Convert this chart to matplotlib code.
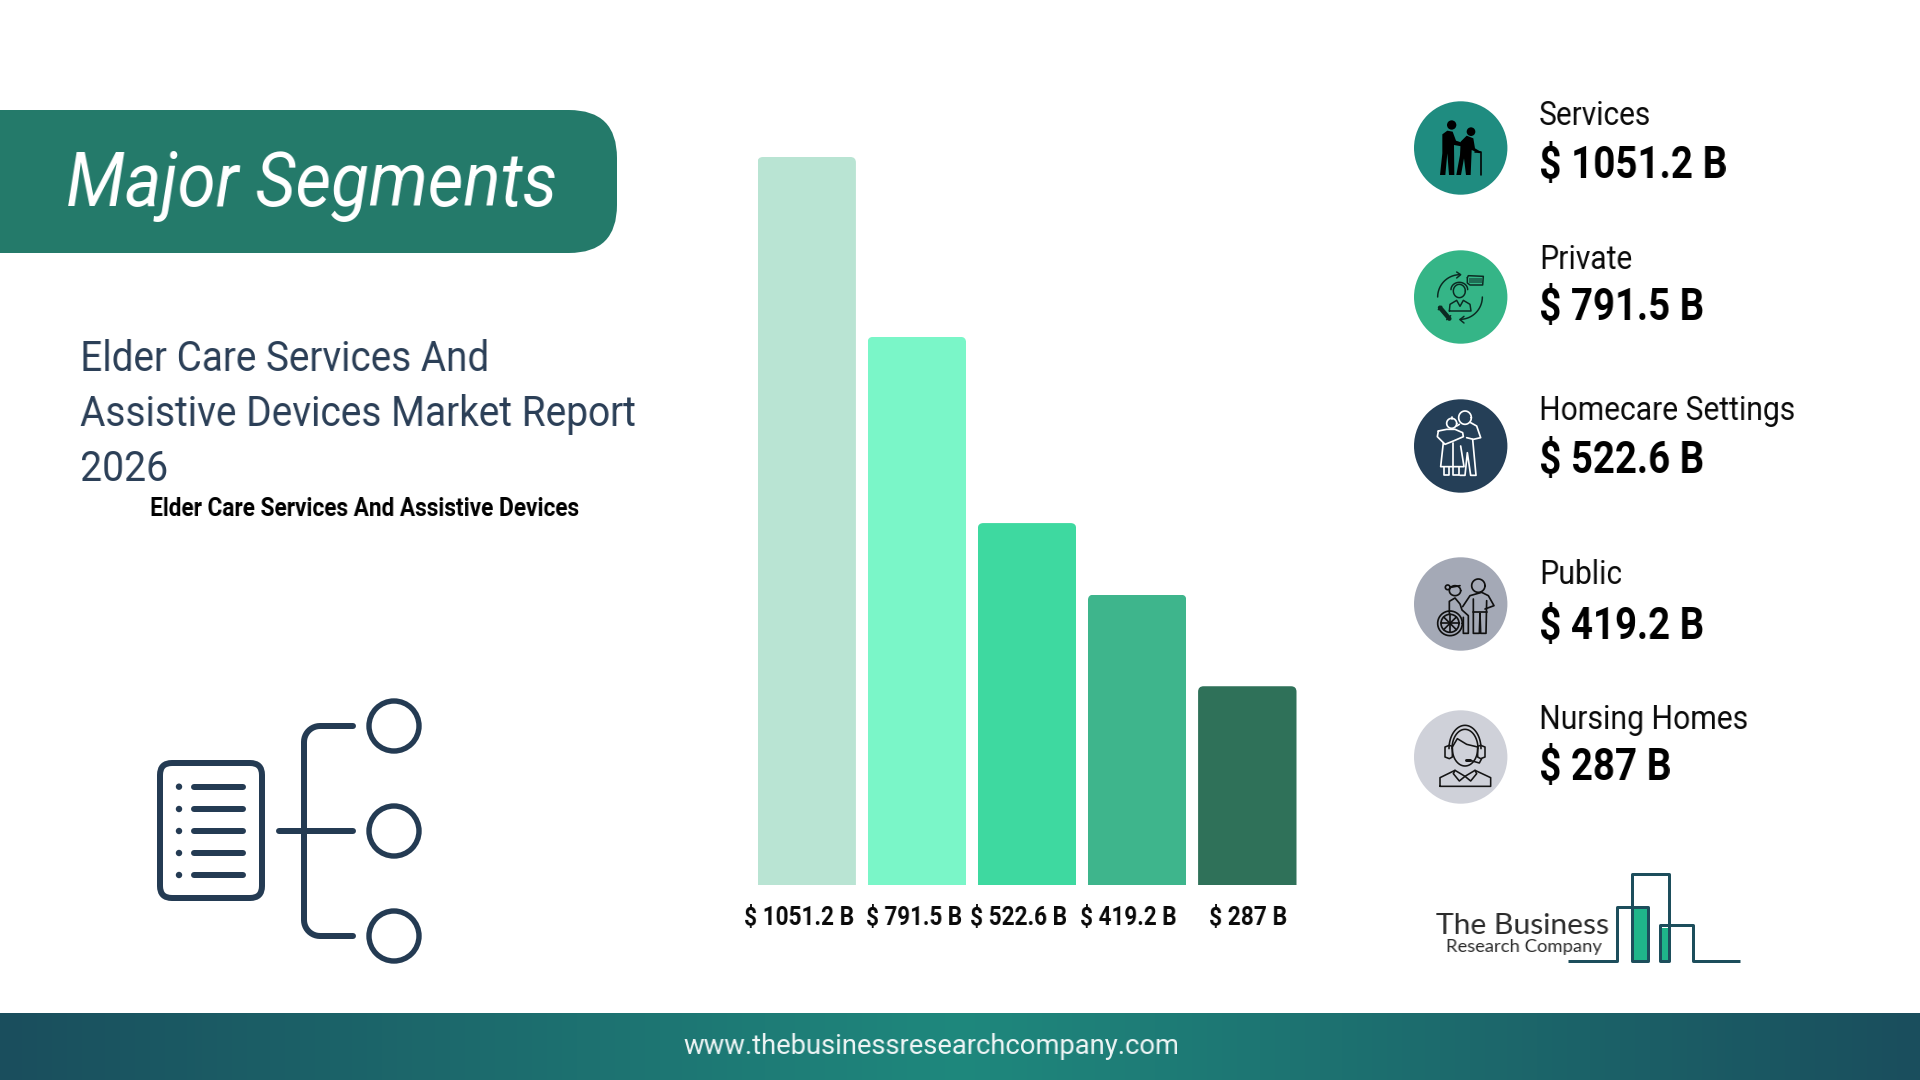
import matplotlib
matplotlib.use('Agg')
import matplotlib.pyplot as plt
import numpy as np
from matplotlib.colors import to_rgb
from matplotlib.patches import Circle, FancyBboxPatch, Rectangle, Polygon
from matplotlib.transforms import offset_copy

plt.rcParams['font.family'] = ['Roboto', 'DejaVu Sans']

# data
segments = ['Services', 'Private', 'Homecare Settings', 'Public', 'Nursing Homes']
values = [1051.2, 791.5, 522.6, 419.2, 287]
value_labels = ['$ 1051.2 B', '$ 791.5 B', '$ 522.6 B', '$ 419.2 B', '$ 287 B']
bar_colors = ['#b9e4d3', '#7af6c8', '#3ed9a0', '#3eb58c', '#2f7159']
circle_colors = ['#1f8c80', '#35b587', '#253f57', '#a4a9b6', '#cfd1d9']

# label positions and text widths, in pixels
label_nudge = [-7.5, -2, -8.5, -8, 1]
label_width = [110, 96, 97, 96.5, 78]
name_base = [125, 269, 420, 584, 729]
name_width = [112, 93, 256, 83, 209]
value_base = [178, 320, 473, 639, 780]
value_width = [188, 165, 165, 165, 132]
circle_y = [148, 297, 446, 604, 757]

NAVY = '#243b53'
PX = 0.72  # points per pixel at dpi 100

fig = plt.figure(figsize=(19.2, 10.8), dpi=100, facecolor='white')
renderer = fig.canvas.get_renderer()
bg = fig.add_axes([0, 0, 1, 1])
bg.set_xlim(0, 1920)
bg.set_ylim(1080, 0)
bg.axis('off')


def squeeze(t, target, centre=False):
    # the source font runs tighter than Roboto here, so scale the drawn text sideways
    factor = target / t.get_window_extent(renderer).width
    rgb = to_rgb(t.get_color())

    def flt(img, dpi):
        h, w = img.shape[:2]
        new_w = max(1, int(round(w * factor)))
        pos = (np.arange(new_w) + 0.5) / factor - 0.5
        i0 = np.clip(np.floor(pos).astype(int), 0, w - 1)
        i1 = np.clip(i0 + 1, 0, w - 1)
        frac = np.clip(pos - i0, 0, 1)
        alpha = img[:, i0, 3] * (1 - frac) + img[:, i1, 3] * frac
        out = np.zeros((h, new_w, 4))
        out[..., :3] = rgb
        out[..., 3] = alpha
        ox = int(round((w - new_w) / 2)) if centre else 0
        return out, ox, 0

    t.set_agg_filter(flt)
    return t


def txt(x, y, s, size, width=None, **kw):
    kw.setdefault('va', 'baseline')
    t = bg.text(x, y, s, fontsize=size, **kw)
    if width is not None:
        squeeze(t, width, kw.get('ha') == 'center')
    return t


def line(pts, c=NAVY, w=6, ox=0, oy=0, k=1.0, cap='round', **kw):
    pts = np.array(pts, dtype=float)
    bg.plot(ox + pts[:, 0] * k, oy + pts[:, 1] * k, color=c, lw=w * PX,
            solid_capstyle=cap, solid_joinstyle='round', **kw)


def arc(cx, cy, rx, ry, a0, a1, n=40):
    t = np.radians(np.linspace(a0, a1, n))
    return np.column_stack((cx + rx * np.cos(t), cy + ry * np.sin(t)))


# banner
grad = np.linspace(0, 1, 256).reshape(1, -1)
banner = FancyBboxPatch((-60, 110), 677, 143, boxstyle='round,pad=0,rounding_size=48',
                        fc='#247a6a', ec='none')
bg.add_patch(banner)
txt(66, 206, 'Major Segments', 54, width=491, color='white', style='italic')

# subtitle
sub_lines = ['Elder Care Services And', 'Assistive Devices Market Report', '2026']
sub_width = [409, 556, 88]
for s, y, wd in zip(sub_lines, [371, 426, 481], sub_width):
    txt(80, y, s, 30.5, width=wd, color='#2b3f57')
txt(150.5, 515.5, 'Elder Care Services And Assistive Devices', 18, width=429, color='black', weight='bold')

# footer
cmap = matplotlib.colors.LinearSegmentedColormap.from_list('foot', ['#1a4e5d', '#1f887d', '#1a4e5d'])
bg.imshow(grad, extent=(0, 1920, 1080, 1013), aspect='auto', cmap=cmap, zorder=1)
bg.set_xlim(0, 1920)
bg.set_ylim(1080, 0)
txt(931, 1053.5, 'www.thebusinessresearchcompany.com', 20, width=496, color='#eef5f5', ha='center', zorder=3)

# left icon
bg.add_patch(FancyBboxPatch((160, 763), 102, 135, boxstyle='round,pad=0,rounding_size=12',
                            fc='none', ec=NAVY, lw=6 * PX))
for y in [786.7, 809, 831, 853, 875]:
    bg.add_patch(Circle((179, y), 3.2, fc=NAVY, ec='none'))
    line([(194, y), (243, y)])
line([(353, 726), (320, 726)] + arc(320, 742, 16, 16, 270, 180, 12).tolist()
     + arc(320, 920, 16, 16, 180, 90, 12).tolist() + [(353, 936)])
line([(279, 831), (353, 831)])
for y in [726, 831, 936]:
    bg.add_patch(Circle((394, y), 25, fc='none', ec=NAVY, lw=5.4 * PX))

# right hand list
for i in range(5):
    bg.add_patch(Circle((1460.7, circle_y[i]), 46.7, fc=circle_colors[i], ec='none'))
    txt(1539, name_base[i], segments[i], 24, width=name_width[i], color='#0a0a0a')
    txt(1539, value_base[i], value_labels[i], 32, width=value_width[i], color='black', weight='bold')

# icon 1, couple with cane
ox, oy, k = 1410, 100, 1 / 3
for c, r in [((125, 75), 14), ((183, 95), 13)]:
    bg.add_patch(Circle((ox + c[0] * k, oy + c[1] * k), r * k, fc='black', ec='none'))
man = [(97, 103), (112, 92), (128, 95), (138, 122), (162, 130), (160, 140), (132, 135), (133, 225),
       (117, 225), (112, 160), (106, 225), (90, 225), (97, 160)]
woman = [(152, 125), (170, 107), (190, 115), (195, 145), (212, 155), (208, 160), (185, 150), (182, 225),
         (168, 225), (162, 175), (153, 225), (139, 225), (150, 165)]
for shape in [man, woman]:
    bg.add_patch(Polygon(ox + np.array(shape) * k + [0, oy - ox], fc='black', ec='none'))
line([(195, 155), (212, 155), (212, 226)], c='black', w=1.6, ox=ox, oy=oy, k=k)

# icon 2, call centre
ox, oy = 1410, 247
d = dict(c='#0c2a22', w=1.5, ox=ox, oy=oy, k=k)
line(arc(150, 150, 67, 67, 180, 270), **d)
line([(140, 75), (152, 83), (140, 93)], **d)
line(arc(150, 150, 67, 67, 0, 90), **d)
line([(162, 208), (150, 218), (162, 228)], **d)
line(arc(148, 132, 18, 20, 0, 360), **d)
line(arc(148, 128, 25, 22, 180, 360), **d)
line([(118, 192), (120, 172), (140, 160), (150, 178), (160, 160), (180, 172), (183, 192), (118, 192)], **d)
line([(172, 92), (172, 108), (180, 114), (218, 114), (220, 88), (175, 86), (172, 92)], **d)
bg.add_patch(Rectangle((ox + 178 * k, oy + 92 * k), 38 * k, 15 * k, fc='#1f6e55', ec='none'))
line([(90, 182), (118, 215)], c='#0c2a22', w=4.5, ox=ox, oy=oy, k=k)
line([(95, 178), (85, 188)], **d)
line([(122, 206), (110, 218)], **d)

# icon 3, elderly couple
ox, oy = 1410, 396
d = dict(c='white', w=1.7, ox=ox, oy=oy, k=k)
line(arc(165, 65, 19, 20, 0, 360), **d)
line(arc(125, 82, 15, 15, 0, 360), **d)
line([(125, 62), (125, 68)], **d)
line([(148, 85), (140, 90)], **d)
line([(182, 80), (200, 90), (212, 125), (190, 130), (170, 125)], **d)
line([(85, 105), (82, 122), (105, 145), (130, 135), (160, 122), (158, 110), (135, 100), (110, 100), (85, 105)], **d)
line([(100, 140), (92, 212), (162, 212), (152, 150)], **d)
line([(188, 130), (198, 238), (182, 238), (172, 170), (165, 238), (150, 238)], **d)
line([(102, 212), (102, 238), (118, 238), (118, 212)], **d)
line([(130, 140), (130, 238), (148, 238), (148, 212)], **d)

# icon 4, wheelchair
ox, oy = 1410, 554
d = dict(c='#111111', w=1.7, ox=ox, oy=oy, k=k)
line(arc(205, 95, 20, 20, 0, 360), **d)
line(arc(135, 110, 17, 15, 0, 360), **d)
line(arc(113, 100, 7, 7, 0, 360), **d)
line([(122, 100), (150, 95)], **d)
line([(118, 178), (118, 142), (135, 132), (150, 150), (156, 168), (175, 185), (175, 238), (160, 238), (160, 190)], **d)
line(arc(120, 208, 37, 37, 0, 360), **d)
line(arc(120, 208, 27, 27, 0, 360), **d)
for a in range(0, 180, 45):
    t = np.radians(a)
    line([(120 - 27 * np.cos(t), 208 - 27 * np.sin(t)), (120 + 27 * np.cos(t), 208 + 27 * np.sin(t))], **d)
line([(158, 158), (180, 125), (215, 115), (235, 125), (252, 155), (225, 165)], **d)
line([(190, 175), (230, 175)], **d)
line([(190, 135), (190, 238), (208, 238), (210, 178), (212, 238), (228, 238), (230, 140)], **d)

# icon 5, headset
ox, oy = 1410, 707
d = dict(c='#151515', w=1.6, ox=ox, oy=oy, k=k)
line(arc(165, 125, 48, 70, 180, 360), **d)
line(arc(165, 125, 39, 58, 180, 360), **d)
line(arc(165, 125, 38, 52, 0, 180), **d)
line([(127, 120), (142, 95), (170, 112), (203, 120)], **d)
line([(118, 115), (105, 120), (105, 150), (118, 155), (127, 150), (127, 118), (118, 115)], **d)
line([(212, 115), (225, 120), (225, 150), (212, 155), (203, 150), (203, 118), (212, 115)], **d)
line([(215, 155), (208, 168), (180, 160)], **d)
line([(168, 160), (180, 160)], c='#151515', w=3, ox=ox, oy=oy, k=k)
line([(90, 238), (90, 212), (135, 190), (165, 208), (195, 190), (242, 212), (242, 238), (90, 238)], **d)
line([(135, 190), (130, 200), (148, 222), (165, 208), (182, 222), (200, 200), (195, 190)], **d)

# logo
ox, oy = 1380, 540
logo = [(565, 1262), (710, 1262), (710, 1100), (805, 1100), (805, 1262), (757, 1262), (757, 1003), (867, 1003),
        (867, 1262), (840, 1262), (840, 1155), (938, 1155), (938, 1262), (1080, 1262)]
for x0, y0, x1, y1 in [(760, 1108, 803, 1260), (845, 1165, 865, 1260)]:
    bg.add_patch(Rectangle((ox + x0 * k, oy + y0 * k), (x1 - x0) * k, (y1 - y0) * k, fc='#1fb58a', ec='none'))
line(logo, c='#1d4e5c', w=3, ox=ox, oy=oy, k=k, cap='butt')
txt(1436, 934, 'The Business', 20.8, width=173, family='Lato', color='#2a2a2a')
txt(1446, 952, 'Research Company', 12.4, width=156, family='Lato', color='#2a2a2a')

# bars, the axes runs a little above the tallest bar so its rounded top is not cut
ax = fig.add_axes([757.5 / 1920, (1080 - 885) / 1080, 539 / 1920, 738 / 1080])
ax.axis('off')
w = 98.5 / 110.25
xs = np.arange(len(values))
bars = ax.bar(xs, values, width=w, color=bar_colors)
ax.set_xlim(-w / 2, xs[-1] + w / 2)
ax.set_ylim(0, max(values) * 738 / 728)
aspect = (max(values) / 728) / (1 / 110.25)
for b in bars:
    corner = FancyBboxPatch((b.get_x(), -40), b.get_width(), b.get_height() + 40,
                            boxstyle='round,pad=0,rounding_size=0.05', mutation_aspect=aspect,
                            transform=ax.transData)
    b.set_clip_path(corner)
for i, s in enumerate(value_labels):
    tr = offset_copy(ax.transData, fig=fig, x=label_nudge[i] * PX, y=-40 * PX, units='points')
    t = ax.text(xs[i], 0, s, transform=tr, ha='center', va='baseline', fontsize=19, weight='bold',
                color='#0a0a0a', clip_on=False)
    squeeze(t, label_width[i], True)

fig.savefig('out.png', dpi=100)
